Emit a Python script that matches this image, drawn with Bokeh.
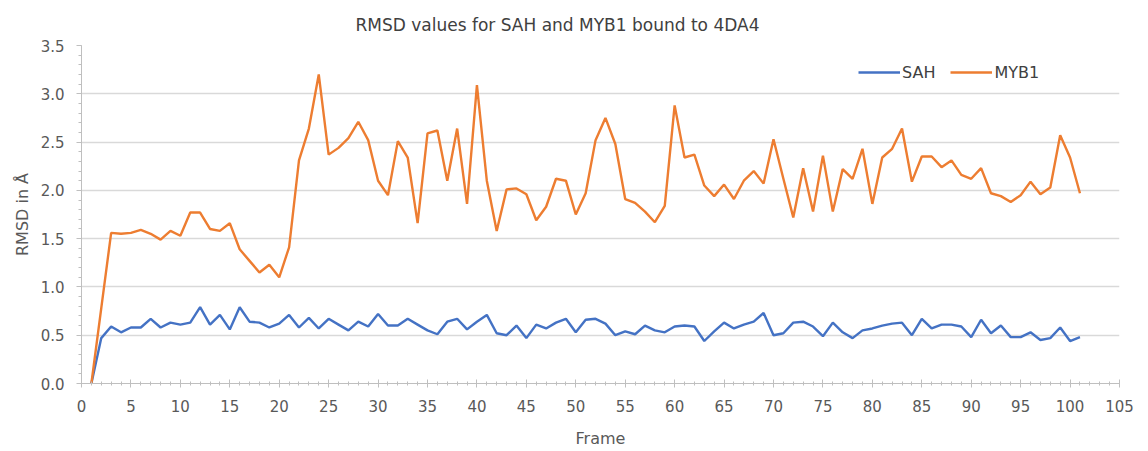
from bokeh.plotting import figure
from bokeh.models import Range1d, SingleIntervalTicker, Legend, LegendItem, PrintfTickFormatter
from bokeh.embed import file_html
from bokeh.resources import INLINE

frames = list(range(1, 102))
sah = [0.0, 0.47, 0.59, 0.53, 0.58, 0.58, 0.67, 0.58, 0.63, 0.61,
       0.63, 0.79, 0.61, 0.71, 0.56, 0.79, 0.64, 0.63, 0.58, 0.62,
       0.71, 0.58, 0.68, 0.57, 0.67, 0.61, 0.55, 0.64, 0.59, 0.72,
       0.60, 0.60, 0.67, 0.61, 0.55, 0.51, 0.64, 0.67, 0.56, 0.64,
       0.71, 0.52, 0.50, 0.60, 0.47, 0.61, 0.57, 0.63, 0.67, 0.53,
       0.66, 0.67, 0.62, 0.50, 0.54, 0.51, 0.60, 0.55, 0.53, 0.59,
       0.60, 0.59, 0.44, 0.54, 0.63, 0.57, 0.61, 0.64, 0.73, 0.50,
       0.52, 0.63, 0.64, 0.59, 0.49, 0.63, 0.53, 0.47, 0.55, 0.57,
       0.60, 0.62, 0.63, 0.50, 0.67, 0.57, 0.61, 0.61, 0.59, 0.48,
       0.66, 0.52, 0.60, 0.48, 0.48, 0.53, 0.45, 0.47, 0.58, 0.44,
       0.48]
myb1 = [0.0, 0.78, 1.56, 1.55, 1.56, 1.59, 1.55, 1.49, 1.58, 1.53,
        1.77, 1.77, 1.60, 1.58, 1.66, 1.39, 1.27, 1.15, 1.23, 1.10,
        1.41, 2.31, 2.64, 3.20, 2.37, 2.44, 2.54, 2.71, 2.52, 2.10,
        1.95, 2.51, 2.34, 1.66, 2.59, 2.62, 2.10, 2.64, 1.86, 3.09,
        2.10, 1.58, 2.01, 2.02, 1.96, 1.69, 1.83, 2.12, 2.10, 1.75,
        1.97, 2.52, 2.75, 2.48, 1.91, 1.87, 1.78, 1.67, 1.84, 2.88,
        2.34, 2.37, 2.05, 1.94, 2.06, 1.91, 2.10, 2.20, 2.07, 2.53,
        2.12, 1.72, 2.23, 1.78, 2.36, 1.78, 2.22, 2.12, 2.43, 1.86,
        2.34, 2.43, 2.64, 2.09, 2.35, 2.35, 2.24, 2.31, 2.16, 2.12,
        2.23, 1.97, 1.94, 1.88, 1.95, 2.09, 1.96, 2.03, 2.57, 2.34,
        1.97]

FONT = "DejaVu Sans"
TXT = "#404040"
GRID = "#d9d9d9"

p = figure(width=1140, height=451, output_backend="svg", toolbar_location=None,
           x_range=Range1d(0, 105), y_range=Range1d(0, 3.5),
           min_border_left=81, min_border_right=21, min_border_top=45, min_border_bottom=68,
           title="RMSD values for SAH and MYB1 bound to 4DA4")
p.outline_line_color = None
p.background_fill_color = "white"
p.border_fill_color = "white"

p.title.text_font = FONT
p.title.text_font_size = "17px"
p.title.text_font_style = "normal"
p.title.text_color = TXT
p.title.align = "left"
p.title.offset = 274
p.title.standoff = 20
p.title.vertical_align = "middle"

l1 = p.line(frames, sah, line_color="#4472C4", line_width=2.4)
l2 = p.line(frames, myb1, line_color="#ED7D31", line_width=2.4)

p.xaxis.ticker = SingleIntervalTicker(interval=5, num_minor_ticks=5)
p.yaxis.ticker = SingleIntervalTicker(interval=0.5, num_minor_ticks=5)
p.yaxis.formatter = PrintfTickFormatter(format="%.1f")

p.xgrid.grid_line_color = None
p.ygrid.grid_line_color = GRID
p.ygrid.grid_line_width = 1.5

for ax in (p.xaxis, p.yaxis):
    ax.axis_line_color = "#bfbfbf"
    ax.major_tick_line_color = "#bfbfbf"
    ax.minor_tick_line_color = "#bfbfbf"
    ax.major_label_text_font = FONT
    ax.major_label_text_font_size = "15px"
    ax.major_label_text_color = "#595959"
    ax.axis_label_text_font = FONT
    ax.axis_label_text_font_size = "16px"
    ax.axis_label_text_font_style = "normal"
    ax.axis_label_text_color = "#595959"

p.xaxis.major_tick_in = 4
p.xaxis.major_tick_out = 4
p.xaxis.minor_tick_in = 2
p.xaxis.minor_tick_out = 2
p.yaxis.major_tick_in = 0
p.yaxis.major_tick_out = 5
p.yaxis.minor_tick_in = 0
p.yaxis.minor_tick_out = 3
p.xaxis.axis_label = "Frame"
p.yaxis.axis_label = "RMSD in Å"
p.xaxis.major_label_standoff = 12
p.yaxis.major_label_standoff = 12
p.xaxis.axis_label_standoff = 14
p.yaxis.axis_label_standoff = 6

legend = Legend(items=[LegendItem(label="SAH", renderers=[l1]),
                       LegendItem(label="MYB1", renderers=[l2])],
                orientation="horizontal", location=(777, 301))
legend.border_line_color = None
legend.background_fill_alpha = 0
legend.glyph_width = 42
legend.label_standoff = 2
legend.spacing = 15
legend.padding = 0
legend.label_text_font = FONT
legend.label_text_font_size = "16px"
legend.label_text_color = TXT
p.add_layout(legend, "center")

open("out.html", "w").write(file_html(p, INLINE))
